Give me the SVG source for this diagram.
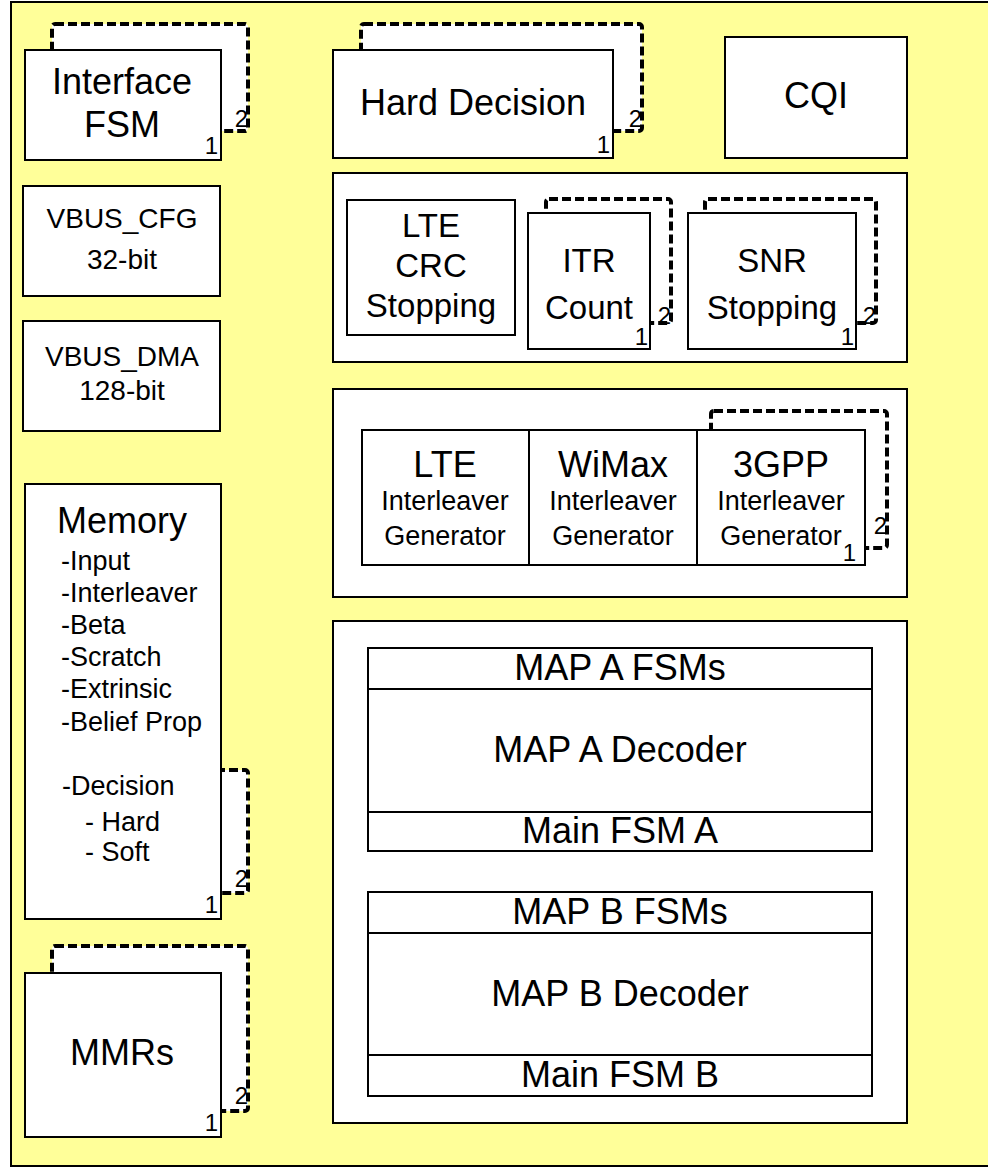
<svg xmlns="http://www.w3.org/2000/svg" width="988" height="1168" viewBox="0 0 988 1168">
<style>
text{font-family:"Liberation Sans",Arial,sans-serif;fill:#000}
.box{fill:#fff;stroke:#000;stroke-width:2}
.dash{fill:#fff;stroke:#000;stroke-width:4;stroke-dasharray:9 4}
.t36{font-size:36px;text-anchor:middle}
.t33{font-size:33px;text-anchor:middle}
.t28{font-size:28px;text-anchor:middle}
.t27{font-size:27px;text-anchor:middle}
.sm{font-size:27px}
.num{font-size:24px;text-anchor:end}
</style>
<rect x="11" y="2" width="990" height="1164" fill="#FFFF99" stroke="#000" stroke-width="2"/>
<g id="interface-fsm">
<rect class="dash" x="52" y="24" width="196" height="107" rx="3"/>
<rect class="box" x="25" y="50" width="196" height="110"/>
<text class="t36" x="122" y="94">Interface</text>
<text class="t36" x="122" y="137">FSM</text>
<text class="num" x="218" y="154">1</text>
<text class="num" x="248" y="127">2</text>
</g>
<g id="hard-decision">
<rect class="dash" x="361" y="24" width="281" height="107" rx="3"/>
<rect class="box" x="333" y="50" width="280" height="108"/>
<text class="t36" x="473" y="115">Hard Decision</text>
<text class="num" x="610" y="153">1</text>
<text class="num" x="642" y="127">2</text>
</g>
<g id="cqi">
<rect class="box" x="725" y="37" width="182" height="121"/>
<text class="t36" x="816" y="108">CQI</text>
</g>
<g id="vbus-cfg">
<rect class="box" x="23" y="186" width="197" height="110"/>
<text class="t28" x="122" y="228">VBUS_CFG</text>
<text class="t28" x="122" y="269">32-bit</text>
</g>
<g id="vbus-dma">
<rect class="box" x="23" y="321" width="197" height="110"/>
<text class="t28" x="122" y="366">VBUS_DMA</text>
<text class="t28" x="122" y="400">128-bit</text>
</g>
<g id="memory">
<rect class="dash" x="200" y="770" width="48" height="123" rx="3"/>
<rect class="box" x="25" y="484" width="196" height="435"/>
<text class="t36" x="122" y="533">Memory</text>
<text class="sm" x="61" y="570">-Input</text>
<text class="sm" x="61" y="602">-Interleaver</text>
<text class="sm" x="61" y="634">-Beta</text>
<text class="sm" x="61" y="666">-Scratch</text>
<text class="sm" x="61" y="698">-Extrinsic</text>
<text class="sm" x="61" y="731">-Belief Prop</text>
<text class="sm" x="62" y="795">-Decision</text>
<text class="sm" x="85" y="831">- Hard</text>
<text class="sm" x="85" y="861">- Soft</text>
<text class="num" x="218" y="913">1</text>
<text class="num" x="248" y="887">2</text>
</g>
<g id="mmrs">
<rect class="dash" x="52" y="946" width="196" height="165" rx="3"/>
<rect class="box" x="25" y="973" width="196" height="164"/>
<text class="t36" x="122" y="1065">MMRs</text>
<text class="num" x="218" y="1131">1</text>
<text class="num" x="248" y="1104">2</text>
</g>
<g id="stopping-panel">
<rect class="box" x="333" y="173" width="574" height="189"/>
</g>
<g id="lte-crc-stopping">
<rect class="box" x="347" y="200" width="168" height="135"/>
<text class="t33" x="431" y="237">LTE</text>
<text class="t33" x="431" y="277">CRC</text>
<text class="t33" x="431" y="317">Stopping</text>
</g>
<g id="itr-count">
<rect class="dash" x="546" y="199" width="125" height="124" rx="3"/>
<rect class="box" x="528" y="213" width="122" height="136"/>
<text class="t33" x="589" y="272">ITR</text>
<text class="t33" x="589" y="319">Count</text>
<text class="num" x="648" y="345">1</text>
<text class="num" x="671" y="324">2</text>
</g>
<g id="snr-stopping">
<rect class="dash" x="705" y="199" width="171" height="124" rx="3"/>
<rect class="box" x="688" y="213" width="168" height="136"/>
<text class="t33" x="772" y="272">SNR</text>
<text class="t33" x="772" y="319">Stopping</text>
<text class="num" x="854" y="345">1</text>
<text class="num" x="876" y="324">2</text>
</g>
<g id="interleaver-panel">
<rect class="box" x="333" y="389" width="574" height="208"/>
</g>
<g id="lte-interleaver">
<rect class="box" x="362" y="430" width="167" height="135"/>
<text class="t36" x="445" y="477">LTE</text>
<text class="t27" x="445" y="510">Interleaver</text>
<text class="t27" x="445" y="545">Generator</text>
</g>
<g id="wimax-interleaver">
<rect class="box" x="529" y="430" width="168" height="135"/>
<text class="t36" x="613" y="477">WiMax</text>
<text class="t27" x="613" y="510">Interleaver</text>
<text class="t27" x="613" y="545">Generator</text>
</g>
<g id="3gpp-interleaver">
<rect class="dash" x="711" y="411" width="176" height="137" rx="3"/>
<rect class="box" x="697" y="430" width="168" height="135"/>
<text class="t36" x="781" y="477">3GPP</text>
<text class="t27" x="781" y="510">Interleaver</text>
<text class="t27" x="781" y="545">Generator</text>
<text class="num" x="856" y="561">1</text>
<text class="num" x="887" y="534">2</text>
</g>
<g id="map-panel">
<rect class="box" x="333" y="621" width="574" height="502"/>
</g>
<g id="map-a">
<rect class="box" x="368" y="648" width="504" height="203"/>
<line x1="368" y1="689" x2="872" y2="689" stroke="#000" stroke-width="2"/>
<line x1="368" y1="812" x2="872" y2="812" stroke="#000" stroke-width="2"/>
<text class="t36" x="620" y="680">MAP A FSMs</text>
<text class="t36" x="620" y="762">MAP A Decoder</text>
<text class="t36" x="620" y="843">Main FSM A</text>
</g>
<g id="map-b">
<rect class="box" x="368" y="892" width="504" height="204"/>
<line x1="368" y1="933" x2="872" y2="933" stroke="#000" stroke-width="2"/>
<line x1="368" y1="1055" x2="872" y2="1055" stroke="#000" stroke-width="2"/>
<text class="t36" x="620" y="924">MAP B FSMs</text>
<text class="t36" x="620" y="1006">MAP B Decoder</text>
<text class="t36" x="620" y="1087">Main FSM B</text>
</g>
<g id="connectors"/>
</svg>
